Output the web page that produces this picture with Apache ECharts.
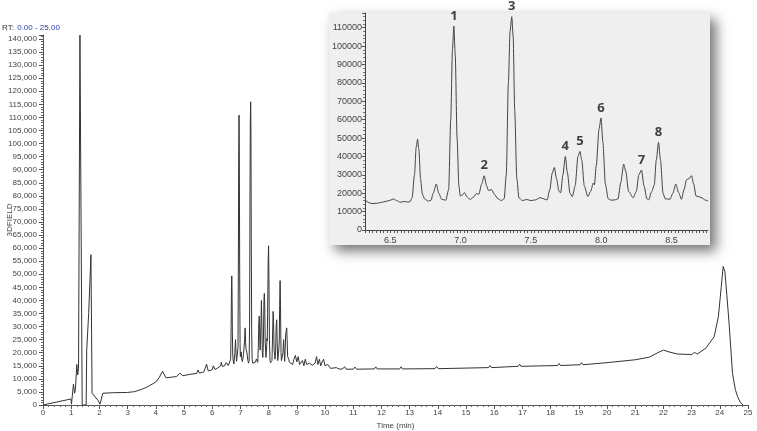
<!DOCTYPE html>
<html><head><meta charset="utf-8">
<script src="https://cdn.jsdelivr.net/npm/echarts@6/dist/echarts.min.js"></script>
<style>html,body{margin:0;padding:0;background:#fff}#c{width:757px;height:431px}</style>
</head><body><div id="c"></div>
<script>
// ---- Main chromatogram (0-25 min) ----
const earlyTime   = [0, 0.99, 1.01, 1.03, 1.08, 1.12, 1.15, 1.20, 1.23, 1.26, 1.31, 1.39, 1.53, 1.55, 1.62, 1.70, 1.74, 1.80, 1.95, 2.02, 2.12, 2.5, 3.0, 3.25, 3.5, 3.7, 4.0, 4.12, 4.24, 4.36, 4.6, 4.74, 4.86, 4.95, 5.2, 5.45, 5.5, 5.55, 5.7, 5.8, 5.86, 6.0, 6.04, 6.1, 6.2, 6.3];
const earlySignal = [0, 2300, 300, 0, 8000, 4500, 6000, 15500, 11500, 14000, 141500, 0, 0, 21000, 35000, 57500, 4500, 3800, 1800, 300, 4500, 4700, 4800, 5100, 6000, 6900, 8800, 10500, 12900, 10400, 10700, 10900, 12200, 11200, 11700, 12100, 13400, 12200, 12600, 15600, 13000, 13500, 15000, 13600, 14200, 15000];

const clusterTime = [6.322, 6.35, 6.37, 6.40, 6.43, 6.47, 6.50, 6.524, 6.545, 6.57, 6.60, 6.625, 6.64, 6.655, 6.672, 6.684, 6.694, 6.703, 6.715, 6.728, 6.745, 6.77, 6.79, 6.805, 6.827, 6.845, 6.865, 6.895, 6.915, 6.93, 6.942, 6.952, 6.962, 6.975, 6.988, 6.998, 7.012, 7.028, 7.045, 7.068, 7.09, 7.112, 7.13, 7.15, 7.168, 7.185, 7.198, 7.22, 7.24, 7.265, 7.29, 7.31, 7.325, 7.34, 7.352, 7.364, 7.374, 7.385, 7.40, 7.415, 7.44, 7.47, 7.50, 7.535, 7.565, 7.59, 7.615, 7.635, 7.652, 7.667, 7.682, 7.70, 7.712, 7.728, 7.745, 7.76, 7.778, 7.795, 7.815, 7.835, 7.849, 7.862, 7.88, 7.905, 7.925, 7.944, 7.952, 7.965, 7.985, 7.999, 8.012, 8.03, 8.05, 8.07, 8.10, 8.12, 8.14, 8.16, 8.175, 8.195, 8.228, 8.25, 8.268, 8.287, 8.305, 8.325, 8.338, 8.36, 8.378, 8.392, 8.408, 8.422, 8.44, 8.455, 8.49, 8.51, 8.531, 8.55, 8.571, 8.59, 8.607, 8.625, 8.643, 8.658, 8.675, 8.70, 8.72, 8.74, 8.76];
const clusterSignal = [16300, 14800, 14400, 14500, 14900, 15600, 16200, 16900, 16000, 15100, 15500, 15200, 15400, 17500, 30000, 45000, 49400, 44000, 28000, 19500, 16800, 15700, 16200, 20000, 25000, 20000, 16700, 16200, 22000, 60000, 98000, 110900, 95000, 50000, 24000, 18500, 19000, 20300, 18000, 16600, 17800, 19800, 19500, 25000, 29500, 24000, 21500, 22000, 19500, 17000, 16000, 17000, 30000, 80000, 108000, 116000, 105000, 65000, 28000, 17500, 16000, 16600, 16000, 16400, 17600, 17000, 16300, 22000, 31000, 34000, 28000, 21000, 20300, 30000, 40000, 31000, 20000, 18200, 24000, 40000, 42700, 38000, 24000, 18200, 21000, 25500, 24500, 35000, 55000, 60900, 48000, 25000, 17000, 16200, 16400, 17000, 26000, 35800, 32000, 21000, 17500, 21000, 30000, 32600, 24000, 17000, 16400, 21000, 24500, 38000, 47600, 38000, 20000, 17000, 16700, 20000, 25000, 20500, 16700, 22000, 27300, 28000, 29500, 25000, 18500, 18000, 17300, 16300, 15800];

const lateTime   = [8.8, 8.85, 8.9, 8.95, 9.0, 9.05, 9.1, 9.2, 9.25, 9.3, 9.35, 9.45, 9.55, 9.65, 9.7, 9.75, 9.8, 9.85, 9.9, 9.95, 10.0, 10.1, 10.2, 10.4, 10.5, 10.6, 10.7, 10.75, 11.0, 11.06, 11.12, 11.75, 11.8, 11.85, 12.65, 12.7, 12.75, 13.9, 13.96, 14.02, 15.8, 15.85, 15.9, 16.85, 16.9, 16.95, 18.25, 18.3, 18.35, 19.05, 19.1, 19.15, 20.0, 21.0, 21.5, 21.8, 22.0, 22.2, 22.5, 23.0, 23.1, 23.2, 23.5, 23.8, 23.95, 24.05, 24.12, 24.18, 24.25, 24.33, 24.45, 24.55, 24.63, 24.72, 24.82];
const lateSignal = [16500, 15500, 17500, 19000, 16500, 18500, 15500, 17000, 15000, 17500, 15500, 16000, 15200, 16000, 18500, 15500, 17500, 15000, 16500, 17500, 15000, 15500, 14000, 14300, 13800, 13700, 14600, 13700, 13700, 14500, 13700, 13800, 14600, 13800, 13800, 14600, 13800, 13900, 14700, 13900, 14300, 15100, 14300, 14800, 15600, 14800, 15100, 15900, 15100, 15400, 16200, 15400, 16200, 17300, 18300, 20000, 21000, 20300, 19500, 19300, 20100, 19500, 21700, 26100, 33800, 45000, 53000, 51000, 42000, 31200, 12100, 6000, 3200, 1200, 0];

// axis ticks / labels
const mainYMax = 141500, mainYStep = 5000;
const insetXLabels = [6.5, 7.0, 7.5, 8.0, 8.5];
const insetYMax = 118000, insetYStep = 10000;

// peak annotations in the inset
const peakNames   = ['1', '2', '3', '4', '5', '6', '7', '8'];
const peakTimes   = [6.952, 7.168, 7.364, 7.745, 7.849, 7.999, 8.287, 8.408];
const peakHeights = [110900, 29500, 116000, 40000, 42700, 60900, 32600, 47600];

const zip = (a, b) => a.map((t, i) => [t, b[i]]);
const mainData = zip(earlyTime, earlySignal).concat(zip(clusterTime, clusterSignal), zip(lateTime, lateSignal));
const insetData = zip(clusterTime, clusterSignal);
const peakData = peakTimes.map((t, i) => ({ name: peakNames[i], value: [t, peakHeights[i]] }));

const insetTicks = [];
for (let k = 253; k <= 350; k++) insetTicks.push(+(k * 0.025).toFixed(3));

const FONT = 'Liberation Sans';
const lab = { fontFamily: FONT, fontSize: 8, color: '#444' };

const chart = echarts.init(document.getElementById('c'), null, { renderer: 'canvas' });
chart.setOption({
  animation: false,
  backgroundColor: '#fff',
  grid: [
    { left: 43, right: 9, top: 405 - 366 * mainYMax / 140000, bottom: 26, containLabel: false, outerBoundsMode: 'none' },
    { left: 365, right: 49, top: 13, bottom: 201, containLabel: false, outerBoundsMode: 'none' }
  ],
  graphic: [
    { type: 'rect', z: -10, shape: { x: 329, y: 13, width: 381, height: 232 },
      style: { fill: '#efefef', shadowBlur: 12, shadowOffsetX: 6, shadowOffsetY: 6, shadowColor: 'rgba(0,0,0,0.55)' } },
    { type: 'text', left: 2, top: 22,
      style: { text: '{a|RT:} {b|0.00 - 25.00}', rich: {
        a: { fontFamily: FONT, fontSize: 8, fill: '#333' },
        b: { fontFamily: FONT, fontSize: 8, fill: '#2a3fb0' } } } },
    { type: 'text', x: 10, y: 220, rotation: Math.PI / 2,
      style: { text: '3DFIELD', fontFamily: FONT, fontSize: 8, fill: '#444', align: 'center', verticalAlign: 'middle' } }
  ],
  xAxis: [
    { gridIndex: 0, type: 'value', min: 0, max: 25, interval: 1,
      name: 'Time (min)', nameLocation: 'middle', nameGap: 15,
      nameTextStyle: { fontFamily: FONT, fontSize: 8, color: '#444' },
      axisLine: { lineStyle: { color: '#555', width: 1 } },
      axisTick: { length: 4, lineStyle: { color: '#555' } },
      minorTick: { show: true, splitNumber: 5, length: 2, lineStyle: { color: '#666' } },
      axisLabel: Object.assign({ margin: 4, formatter: v => String(v) }, lab),
      splitLine: { show: false } },
    { gridIndex: 1, type: 'value', min: 6.32, max: 8.76,
      axisLine: { onZero: false, lineStyle: { color: '#444' } },
      axisTick: { customValues: insetTicks, length: 3, lineStyle: { color: '#555' } },
      axisLabel: Object.assign({ margin: 6, customValues: insetXLabels, formatter: v => v.toFixed(1) }, lab, { fontSize: 9 }),
      splitLine: { show: false } }
  ],
  yAxis: [
    { gridIndex: 0, type: 'value', min: 0, max: mainYMax, interval: mainYStep,
      axisLine: { show: true, lineStyle: { color: '#555' } },
      axisTick: { show: true, length: 4, lineStyle: { color: '#555' } },
      minorTick: { show: true, splitNumber: 5, length: 2, lineStyle: { color: '#666' } },
      axisLabel: Object.assign({ margin: 6, showMaxLabel: false, formatter: v => v.toLocaleString('en-US') }, lab),
      splitLine: { show: false } },
    { gridIndex: 1, type: 'value', min: 0, max: insetYMax, interval: insetYStep,
      axisLine: { show: true, lineStyle: { color: '#444' } },
      axisTick: { show: true, length: 3, lineStyle: { color: '#555' } },
      minorTick: { show: true, splitNumber: 5, length: 2, lineStyle: { color: '#777' } },
      axisLabel: Object.assign({ margin: 3, showMaxLabel: false, formatter: v => String(v) }, lab, { fontSize: 9 }),
      splitLine: { show: false } }
  ],
  series: [
    { type: 'line', xAxisIndex: 0, yAxisIndex: 0, data: mainData, showSymbol: false, symbol: 'none',
      lineStyle: { color: '#333', width: 1 }, z: 3 },
    { type: 'line', xAxisIndex: 1, yAxisIndex: 1, data: insetData, showSymbol: false, symbol: 'none',
      smooth: 0.25, smoothMonotone: 'x', lineStyle: { color: '#444', width: 1 }, z: 3 },
    { type: 'scatter', xAxisIndex: 1, yAxisIndex: 1, data: peakData, symbolSize: 1,
      itemStyle: { color: 'rgba(0,0,0,0)' },
      label: { show: true, position: 'top', distance: 3, formatter: p => p.name,
        fontFamily: 'Open Sans', fontWeight: 'bold', fontSize: 13, color: '#111' }, z: 4 }
  ]
});
</script></body></html>
